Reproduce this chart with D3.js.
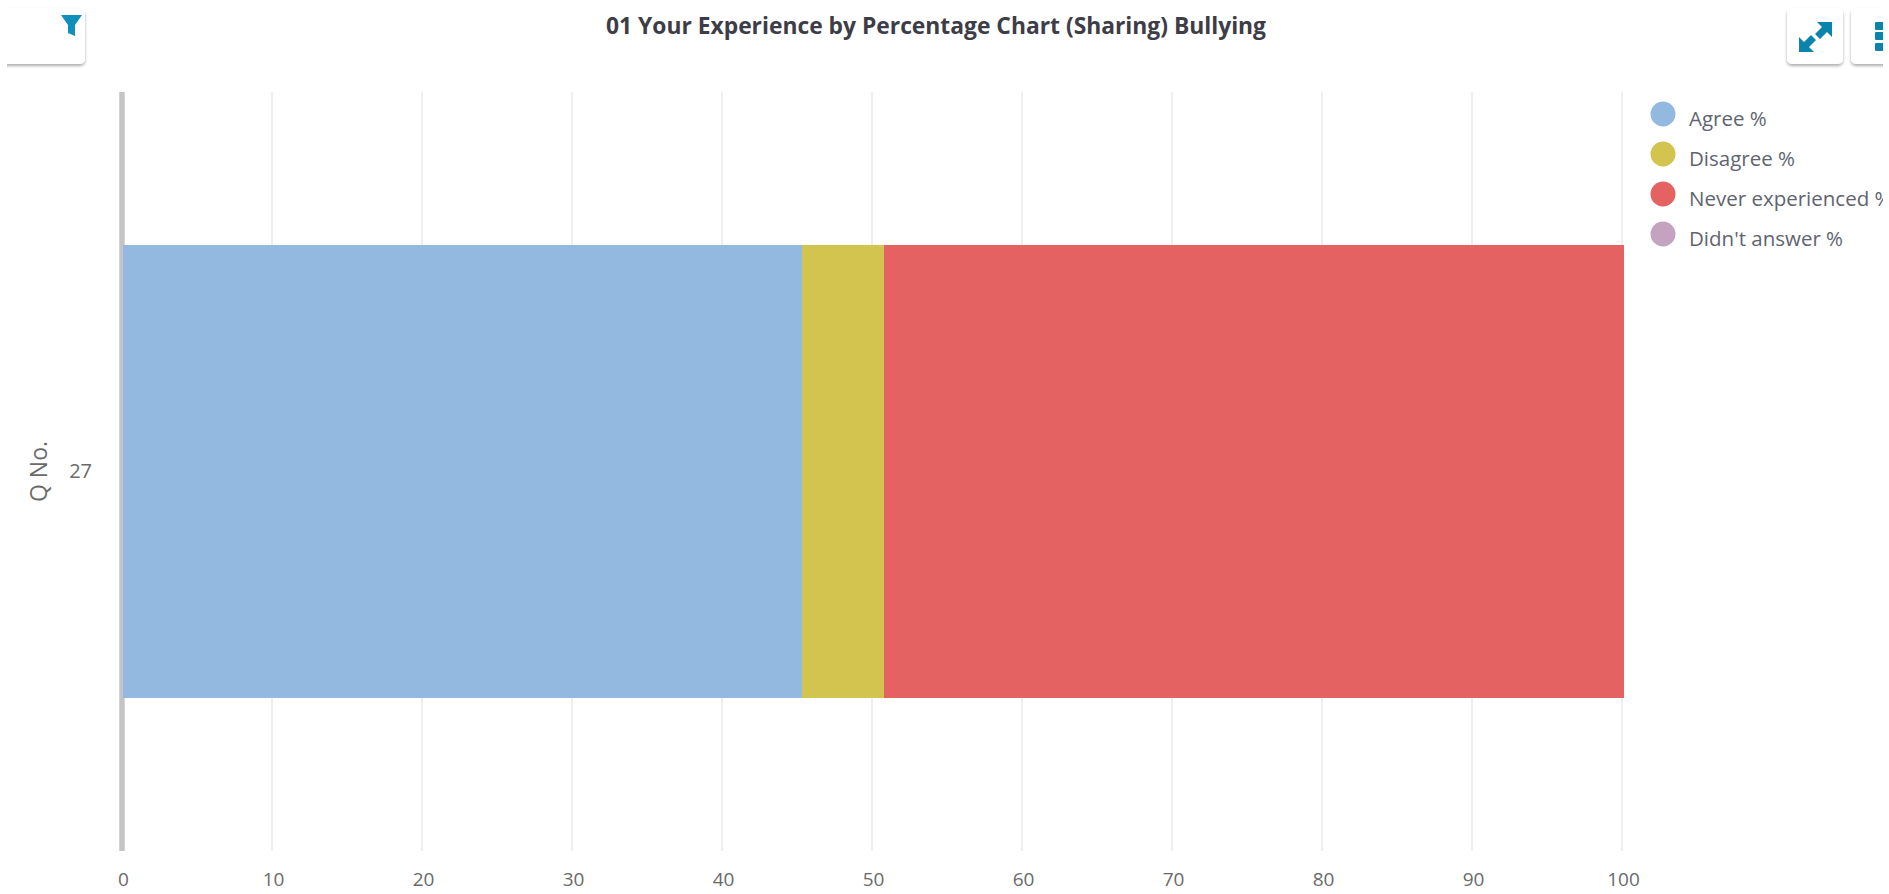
<!DOCTYPE html>
<html>
<head>
<meta charset="utf-8">
<script src="https://cdn.jsdelivr.net/npm/d3@7/dist/d3.min.js"></script>
<style>
  html, body { margin: 0; padding: 0; background: #fff; overflow: hidden; }
  text { font-family: "Open Sans", sans-serif; }
</style>
</head>
<body>
<div id="chart"></div>
<script>
const questions = ["27"];
const seriesNames = ["Agree %", "Disagree %", "Never experienced %", "Didn't answer %"];
const seriesColors = ["#94b9e1", "#d2c44f", "#e56262", "#c4a3c1"];
const agree = [45.3];
const disagree = [5.5];
const neverExperienced = [49.3];
const didntAnswer = [0];
const xTicks = [0, 10, 20, 30, 40, 50, 60, 70, 80, 90, 100];

const W = 1889, H = 894;
const margin = { top: 92, left: 122, right: 267, bottom: 43 };

const svg = d3.select("#chart").append("svg")
  .attr("width", W).attr("height", H).style("display", "block");

const defs = svg.append("defs");
const shadow = defs.append("filter").attr("id", "btn-shadow")
  .attr("x", "-20%").attr("y", "-20%").attr("width", "140%").attr("height", "150%");
shadow.append("feDropShadow").attr("dx", 0).attr("dy", 2).attr("stdDeviation", 1.6)
  .attr("flood-color", "#000").attr("flood-opacity", 0.32);

const x = d3.scaleLinear().domain([0, 100]).range([margin.left, W - margin.right]);
const y = d3.scaleBand().domain(questions).range([margin.top, H - margin.bottom]).padding(0.2515);

// Grid
svg.append("g")
  .selectAll("line").data(xTicks.slice(1)).enter().append("line")
  .attr("x1", d => x(d)).attr("x2", d => x(d))
  .attr("y1", margin.top).attr("y2", H - margin.bottom)
  .attr("stroke", "#e8e8e8").attr("stroke-width", 1.5);

// Category axis line, the bar sits on top of it
svg.append("line")
  .attr("x1", x(0)).attr("x2", x(0))
  .attr("y1", margin.top).attr("y2", H - margin.bottom)
  .attr("stroke", "#c4c4c4").attr("stroke-width", 5.5);

// Stacked bar
const rows = questions.map((q, i) => ({ q, a: agree[i], b: disagree[i], c: neverExperienced[i], d: didntAnswer[i] }));
const stacked = d3.stack().keys(["a", "b", "c", "d"])(rows);
svg.append("g").attr("shape-rendering", "crispEdges")
  .selectAll("g").data(stacked).enter().append("g")
  .attr("fill", (d, i) => seriesColors[i])
  .selectAll("rect").data(d => d).enter().append("rect")
  .attr("x", d => x(d[0]) + (d[0] === 0 ? 1.3 : 0))
  .attr("y", d => y(d.data.q))
  .attr("width", d => x(d[1]) - x(d[0]) - (d[0] === 0 && d[1] > 0 ? 1.3 : 0))
  .attr("height", y.bandwidth());

// X axis
const xAxis = svg.append("g")
  .attr("transform", `translate(1,${H - margin.bottom})`)
  .call(d3.axisBottom(x).tickValues(xTicks).tickSize(0).tickPadding(22));
xAxis.select(".domain").remove();
xAxis.selectAll("text").attr("font-size", 19).attr("fill", "#6a6a6a")
  .style("font-family", '"Open Sans", sans-serif');

// Y axis
const yAxis = svg.append("g")
  .attr("transform", `translate(${margin.left},0)`)
  .call(d3.axisLeft(y).tickSize(0).tickPadding(30));
yAxis.select(".domain").remove();
yAxis.selectAll("text").attr("font-size", 20).attr("fill", "#6a6a6a")
  .style("font-family", '"Open Sans", sans-serif');

svg.append("text")
  .attr("transform", `translate(47,${y("27") + y.bandwidth() / 2}) rotate(-90)`)
  .attr("text-anchor", "middle")
  .attr("font-size", 23).attr("fill", "#6a6a6a")
  .text("Q No.");

// Title
svg.append("text")
  .attr("x", 936).attr("y", 34)
  .attr("text-anchor", "middle")
  .attr("font-size", 24).attr("font-weight", 700).attr("fill", "#3d3d47")
  .attr("textLength", 660).attr("lengthAdjust", "spacingAndGlyphs")
  .text("01 Your Experience by Percentage Chart (Sharing) Bullying");

// Legend
const legend = svg.append("g").selectAll("g").data(seriesNames).enter().append("g")
  .attr("transform", (d, i) => `translate(1663,${114 + i * 40})`);
legend.append("circle").attr("r", 12.5).attr("fill", (d, i) => seriesColors[i]);
legend.append("text")
  .attr("x", 26).attr("y", 5).attr("dy", "0.35em")
  .attr("font-size", 20.5).attr("fill", "#5f6470")
  .text(d => d);

// Toolbar buttons
const buttons = svg.append("g");
[[-20, 8, 105, 56], [1787, 8, 56, 56], [1851, 8, 80, 56]].forEach(b => {
  buttons.append("rect")
    .attr("x", b[0]).attr("y", b[1]).attr("width", b[2]).attr("height", b[3]).attr("rx", 5)
    .attr("fill", "#fff").attr("filter", "url(#btn-shadow)");
});
// cover the shadow left of the filter button, it fades out at x=7
buttons.append("rect").attr("x", 0).attr("y", 0).attr("width", 7).attr("height", 72).attr("fill", "#fff");

buttons.append("path")
  .attr("d", "M61 15H82L75 25V36L68 33V25Z")
  .attr("fill", "#0e8fbc");
buttons.append("path")
  .attr("d", "M1832 22V37L1827 32L1820 39L1815 34L1822 27L1817 22Z")
  .attr("fill", "#0a84ad");
buttons.append("path")
  .attr("d", "M1799 52V37L1804 42L1811 35L1816 40L1809 47L1814 52Z")
  .attr("fill", "#0a84ad");
[22, 32, 43].forEach(yy => {
  buttons.append("rect").attr("x", 1875).attr("y", yy).attr("width", 12).attr("height", 8).attr("rx", 1).attr("fill", "#0a84ad");
});

// The screenshot is cut off a few pixels before the right edge
svg.append("rect").attr("x", 1883).attr("y", 0).attr("width", 6).attr("height", H).attr("fill", "#fff");
</script>
</body>
</html>
